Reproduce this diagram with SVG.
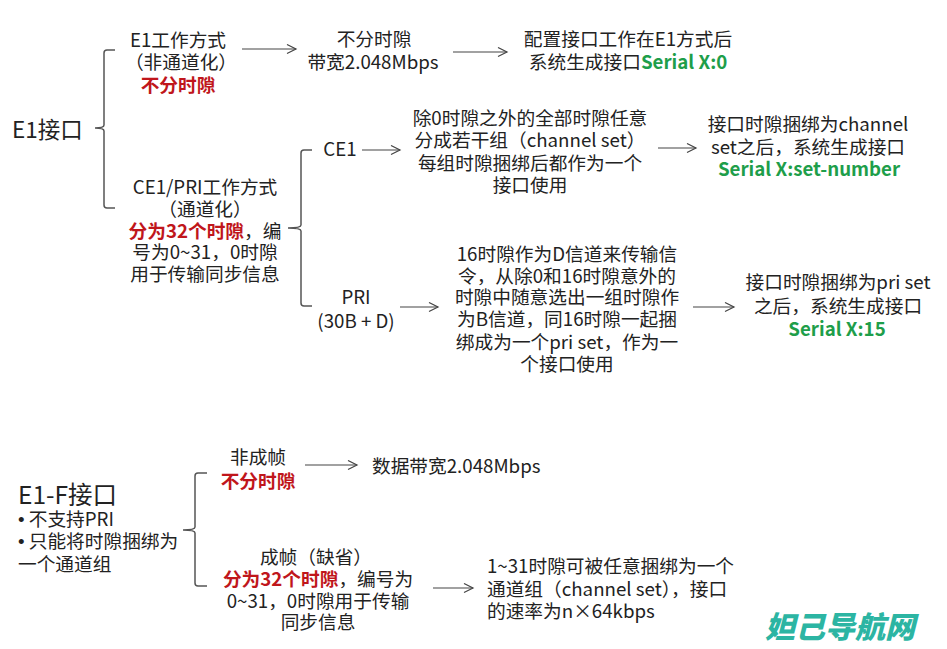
<svg xmlns="http://www.w3.org/2000/svg" width="947" height="649" viewBox="0 0 947 649">
<defs>
<style>
text{font-family:"Microsoft YaHei","Noto Sans CJK SC","Noto Sans",sans-serif;font-size:18.7px;fill:#222;}
.c{text-anchor:middle;}
.big{font-size:22.5px;}
.big2{font-size:24.5px;}
.bul{font-family:"Liberation Sans",sans-serif;}
.red{fill:#c0161b;font-weight:bold;}
.grn{fill:#1e9e4a;font-weight:bold;}
.br{fill:none;stroke:#555;stroke-width:1.5;}
.ar{fill:none;stroke:#444;stroke-width:1.2;marker-end:url(#ah);}
.wm{font-size:30px;font-weight:900;font-style:italic;fill:#2cb5a3;}
</style>
<marker id="ah" markerUnits="userSpaceOnUse" markerWidth="12" markerHeight="12" refX="10" refY="5" orient="auto">
<path d="M1,0.5 L10,5 L1,9.5" fill="none" stroke="#444" stroke-width="1.2"/>
</marker>
</defs>
<rect width="947" height="649" fill="#fff"/>

<g id="connectors">
<path class="br" d="M115,50 H107 Q104,50 104,53 V125 Q104,128 95,128 Q104,128 104,131 V205 Q104,208 107,208 H115"/>
<path class="br" d="M312,150 H304 Q301,150 301,153 V225 Q301,228 288,228 Q301,228 301,231 V303 Q301,306 304,306 H312"/>
<path class="br" d="M207,473 H198 Q195,473 195,476 V527 Q195,530 183,530 Q195,530 195,533 V583 Q195,586 198,586 H207"/>
<line class="ar" x1="242" y1="49" x2="296" y2="49"/>
<line class="ar" x1="453" y1="52" x2="507" y2="52"/>
<line class="ar" x1="362" y1="150" x2="400" y2="150"/>
<line class="ar" x1="658" y1="148" x2="696" y2="148"/>
<line class="ar" x1="400" y1="307" x2="438" y2="307"/>
<line class="ar" x1="693" y1="307" x2="734" y2="307"/>
<line class="ar" x1="305" y1="465" x2="357" y2="465"/>
<line class="ar" x1="433" y1="588" x2="473" y2="588"/>
</g>

<g id="e1">
<text class="big" x="12" y="138">E1接口</text>
</g>

<g id="e1-mode">
<text class="c" x="178" y="47">E1工作方式</text>
<text class="c" x="181" y="69">（非通道化）</text>
<text class="c red" x="178" y="92">不分时隙</text>
</g>

<g id="e1-bw">
<text class="c" x="374" y="46">不分时隙</text>
<text class="c" x="373" y="69">带宽2.048Mbps</text>
</g>

<g id="e1-result">
<text class="c" x="628" y="46">配置接口工作在E1方式后</text>
<text class="c" x="628" y="69">系统生成接口<tspan class="grn">Serial X:0</tspan></text>
</g>

<g id="ce1pri-mode">
<text class="c" x="205" y="194">CE1/PRI工作方式</text>
<text class="c" x="205" y="216">（通道化）</text>
<text class="c" x="205" y="238"><tspan class="red">分为32个时隙</tspan>，编</text>
<text class="c" x="205" y="259">号为0~31，0时隙</text>
<text class="c" x="205" y="281">用于传输同步信息</text>
</g>

<g id="ce1">
<text class="c" x="340" y="156">CE1</text>
</g>

<g id="ce1-desc">
<text class="c" x="530" y="125">除0时隙之外的全部时隙任意</text>
<text class="c" x="530" y="147">分成若干组（channel set）</text>
<text class="c" x="530" y="170">每组时隙捆绑后都作为一个</text>
<text class="c" x="530" y="192">接口使用</text>
</g>

<g id="ce1-result">
<text class="c" x="808" y="131">接口时隙捆绑为channel</text>
<text class="c" x="808" y="154">set之后，系统生成接口</text>
<text class="c grn" x="809" y="176">Serial X:set-number</text>
</g>

<g id="pri">
<text class="c" x="356" y="304">PRI</text>
<text class="c" x="356" y="328">(30B + D)</text>
</g>

<g id="pri-desc">
<text class="c" x="567" y="261">16时隙作为D信道来传输信</text>
<text class="c" x="567" y="283">令，从除0和16时隙意外的</text>
<text class="c" x="567" y="304">时隙中随意选出一组时隙作</text>
<text class="c" x="567" y="326">为B信道，同16时隙一起捆</text>
<text class="c" x="567" y="349">绑成为一个pri set，作为一</text>
<text class="c" x="567" y="371">个接口使用</text>
</g>

<g id="pri-result">
<text class="c" x="838" y="289">接口时隙捆绑为pri set</text>
<text class="c" x="838" y="313">之后，系统生成接口</text>
<text class="c grn" x="837" y="336">Serial X:15</text>
</g>

<g id="e1f">
<text class="big2" x="18" y="504">E1-F接口</text>
<text x="18" y="526"><tspan class="bul">•</tspan> 不支持PRI</text>
<text x="18" y="548"><tspan class="bul">•</tspan> 只能将时隙捆绑为</text>
<text x="18" y="571">一个通道组</text>
</g>

<g id="unframed">
<text class="c" x="258" y="464">非成帧</text>
<text class="c red" x="258" y="488">不分时隙</text>
</g>

<g id="unframed-bw">
<text x="372" y="473">数据带宽2.048Mbps</text>
</g>

<g id="framed">
<text class="c" x="316" y="564">成帧（缺省）</text>
<text class="c" x="318" y="586"><tspan class="red">分为32个时隙</tspan>，编号为</text>
<text class="c" x="318" y="608">0~31，0时隙用于传输</text>
<text class="c" x="318" y="629">同步信息</text>
</g>

<g id="framed-result">
<text x="487" y="573">1~31时隙可被任意捆绑为一个</text>
<text x="487" y="596">通道组（channel set），接口</text>
<text x="487" y="618">的速率为n×64kbps</text>
</g>

<text class="wm" x="765" y="638">妲己导航网</text>
</svg>
